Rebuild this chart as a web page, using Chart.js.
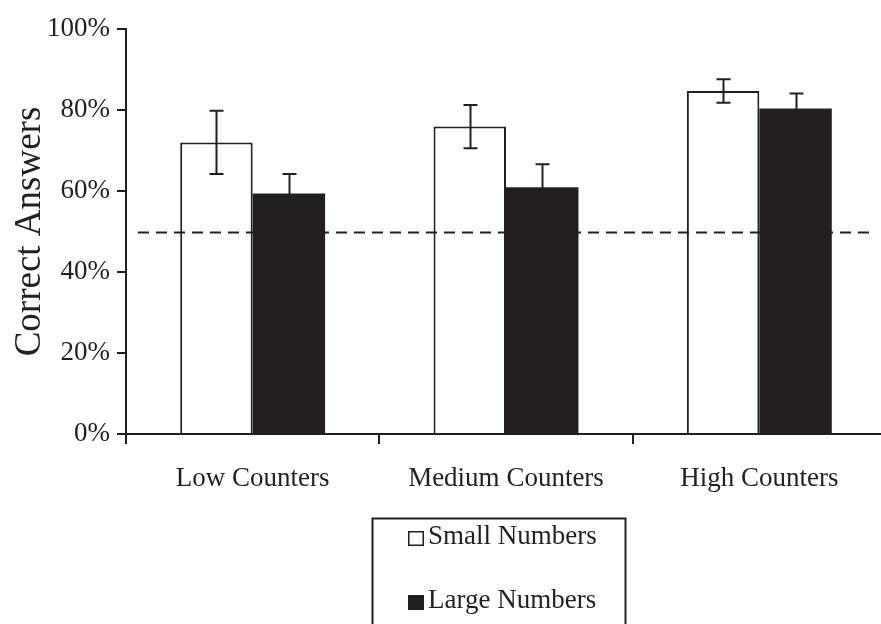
<!DOCTYPE html>
<html>
<head>
<meta charset="utf-8">
<script src="https://cdn.jsdelivr.net/npm/chart.js@4.4.1/dist/chart.umd.min.js"></script>
<style>
  html, body { margin: 0; padding: 0; background: #fff; overflow: hidden; }
  #chart { display: block; }
</style>
</head>
<body>
<canvas id="chart" width="890" height="624"></canvas>
<script>
// datos
const categories   = ['Low Counters', 'Medium Counters', 'High Counters'];
const smallNumbers = [72.0, 75.9, 84.7];
const largeNumbers = [59.4, 60.9, 80.4];
const smallErr     = [7.8, 5.35, 2.9];
const largeErr     = [4.8, 5.7, 3.7];
const yTicks       = [0, 20, 40, 60, 80, 100];
const chanceLevel  = 50;

const INK = '#231f20';
const SERIF = "'Liberation Serif', 'Times New Roman', serif";

// barras de error (whiskers con tapas)
const errorBars = {
    id: 'errorBars',
    afterDatasetsDraw(chart) {
        const { ctx, scales: { y } } = chart;
        const errs = [smallErr, largeErr];
        ctx.save();
        ctx.strokeStyle = INK;
        ctx.lineWidth = 2;
        chart.data.datasets.forEach((ds, di) => {
            const meta = chart.getDatasetMeta(di);
            meta.data.forEach((bar, i) => {
                const v = ds.data[i];
                const e = errs[di][i];
                const yTop = y.getPixelForValue(v + e);
                const yBot = y.getPixelForValue(v - e);
                const x = Math.round(bar.x) + 0.5;
                ctx.beginPath();
                ctx.moveTo(x, yTop);
                ctx.lineTo(x, yBot);
                ctx.moveTo(x - 7, yTop);
                ctx.lineTo(x + 7, yTop);
                ctx.moveTo(x - 7, yBot);
                ctx.lineTo(x + 7, yBot);
                ctx.stroke();
            });
        });
        ctx.restore();
    }
};

// linea punteada del 50%
const chanceLine = {
    id: 'chanceLine',
    afterDatasetsDraw(chart) {
        const { ctx, chartArea, scales: { y } } = chart;
        const py = Math.round(y.getPixelForValue(chanceLevel)) + 0.5;
        ctx.save();
        ctx.strokeStyle = INK;
        ctx.lineWidth = 2;
        ctx.setLineDash([11, 7]);
        ctx.beginPath();
        ctx.moveTo(chartArea.left + 12, py);
        ctx.lineTo(chartArea.right - 14, py);
        ctx.stroke();
        ctx.restore();
    }
};

// leyenda en caja debajo del grafico
const boxLegend = {
    id: 'boxLegend',
    afterDraw(chart) {
        const { ctx } = chart;
        const left = 372, top = 518, width = 253;
        ctx.save();
        ctx.strokeStyle = INK;
        ctx.lineWidth = 2;
        ctx.strokeRect(left + 0.5, top + 0.5, width, 140);

        ctx.font = `27px ${SERIF}`;
        ctx.textBaseline = 'alphabetic';
        ctx.textAlign = 'left';
        chart.data.datasets.forEach((ds, i) => {
            const base = 544 + i * 64;
            const sx = 408, sy = base - 13;
            ctx.fillStyle = ds.backgroundColor;
            ctx.fillRect(sx, sy, 16, 15);
            ctx.lineWidth = 1.5;
            ctx.strokeRect(sx + 0.75, sy + 0.75, 14.5, 13.5);
            ctx.fillStyle = INK;
            ctx.fillText(ds.label, 428, base);
        });
        ctx.restore();
    }
};

new Chart(document.getElementById('chart'), {
    type: 'bar',
    data: {
        labels: categories,
        datasets: [
            {
                label: 'Small Numbers',
                data: smallNumbers,
                backgroundColor: '#ffffff',
                borderColor: INK,
                borderWidth: 2,
                borderSkipped: 'start'
            },
            {
                label: 'Large Numbers',
                data: largeNumbers,
                backgroundColor: INK,
                borderColor: INK,
                borderWidth: 0
            }
        ]
    },
    options: {
        responsive: false,
        animation: false,
        events: [],
        layout: { padding: { top: 29, right: 4, bottom: 130, left: 0 } },
        datasets: {
            bar: { categoryPercentage: 0.572, barPercentage: 1.0 }
        },
        plugins: {
            legend: { display: false },
            tooltip: { enabled: false }
        },
        scales: {
            x: {
                afterFit: (scale) => { scale.height = 60; },
                grid: {
                    offset: true,
                    drawOnChartArea: false,
                    drawTicks: true,
                    tickLength: 10,
                    color: INK,
                    lineWidth: 2
                },
                border: { display: true, color: INK, width: 2 },
                ticks: {
                    padding: 19,
                    color: INK,
                    font: { family: SERIF, size: 27 }
                }
            },
            y: {
                min: 0,
                max: 100,
                afterFit: (scale) => { scale.width = 126; },
                afterBuildTicks: (scale) => {
                    scale.ticks = yTicks.map(v => ({ value: v }));
                },
                grid: {
                    drawOnChartArea: false,
                    drawTicks: true,
                    tickLength: 9,
                    color: INK,
                    lineWidth: 2
                },
                border: { display: true, color: INK, width: 2 },
                ticks: {
                    padding: 7,
                    color: INK,
                    font: { family: SERIF, size: 27 },
                    callback: (v) => v + '%'
                },
                title: {
                    display: true,
                    text: 'Correct Answers',
                    color: INK,
                    font: { family: SERIF, size: 37 },
                    padding: { top: 8, bottom: 0 }
                }
            }
        }
    },
    plugins: [chanceLine, errorBars, boxLegend]
});
</script>
</body>
</html>
